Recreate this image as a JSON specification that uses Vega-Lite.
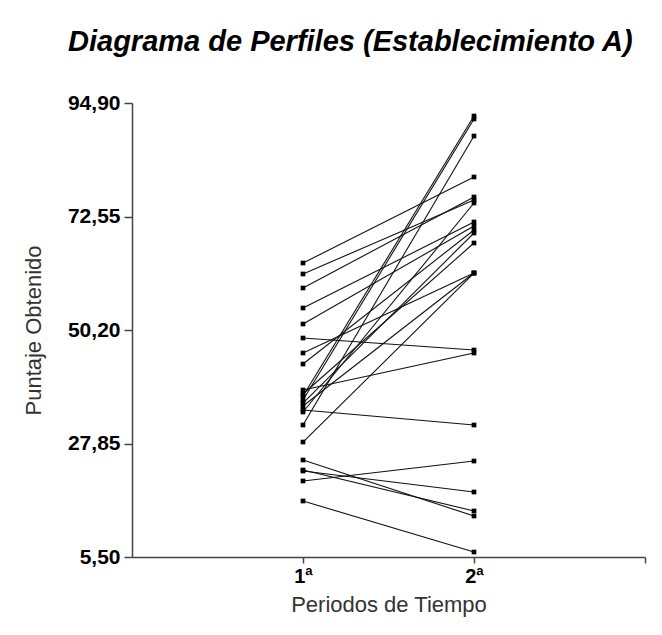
{
  "$schema": "https://vega.github.io/schema/vega-lite/v6.json",
  "width": 513,
  "height": 454,
  "autosize": {"type": "none"},
  "padding": {"left": 132, "top": 103, "right": 17, "bottom": 78},
  "background": "white",
  "config": {"view": {"stroke": null}, "font": "Liberation Sans"},
  "title": {
    "text": "Diagrama de Perfiles (Establecimiento A)",
    "font": "Liberation Sans",
    "fontSize": 29,
    "fontWeight": "bold",
    "fontStyle": "italic",
    "color": "#000000",
    "anchor": "start",
    "frame": "group",
    "dx": -64,
    "offset": 35
  },
  "data": {
    "values": [
      {"id": 1, "periodo": 1, "puntaje": 63.39}, {"id": 1, "periodo": 2, "puntaje": 80.33},
      {"id": 2, "periodo": 1, "puntaje": 61.23}, {"id": 2, "periodo": 2, "puntaje": 75.80},
      {"id": 3, "periodo": 1, "puntaje": 58.47}, {"id": 3, "periodo": 2, "puntaje": 76.39},
      {"id": 4, "periodo": 1, "puntaje": 54.53}, {"id": 4, "periodo": 2, "puntaje": 71.47},
      {"id": 5, "periodo": 1, "puntaje": 51.38}, {"id": 5, "periodo": 2, "puntaje": 70.68},
      {"id": 6, "periodo": 1, "puntaje": 48.62}, {"id": 6, "periodo": 2, "puntaje": 46.26},
      {"id": 7, "periodo": 1, "puntaje": 45.67}, {"id": 7, "periodo": 2, "puntaje": 61.42},
      {"id": 8, "periodo": 1, "puntaje": 43.50}, {"id": 8, "periodo": 2, "puntaje": 69.89},
      {"id": 9, "periodo": 1, "puntaje": 38.38}, {"id": 9, "periodo": 2, "puntaje": 45.67},
      {"id": 10, "periodo": 1, "puntaje": 37.59}, {"id": 10, "periodo": 2, "puntaje": 67.33},
      {"id": 11, "periodo": 1, "puntaje": 37.20}, {"id": 11, "periodo": 2, "puntaje": 92.34},
      {"id": 12, "periodo": 1, "puntaje": 36.41}, {"id": 12, "periodo": 2, "puntaje": 91.75},
      {"id": 13, "periodo": 1, "puntaje": 35.82}, {"id": 13, "periodo": 2, "puntaje": 69.30},
      {"id": 14, "periodo": 1, "puntaje": 35.23}, {"id": 14, "periodo": 2, "puntaje": 61.42},
      {"id": 15, "periodo": 1, "puntaje": 34.44}, {"id": 15, "periodo": 2, "puntaje": 31.49},
      {"id": 16, "periodo": 1, "puntaje": 34.05}, {"id": 16, "periodo": 2, "puntaje": 75.21},
      {"id": 17, "periodo": 1, "puntaje": 31.49}, {"id": 17, "periodo": 2, "puntaje": 88.40},
      {"id": 18, "periodo": 1, "puntaje": 28.14}, {"id": 18, "periodo": 2, "puntaje": 61.42},
      {"id": 19, "periodo": 1, "puntaje": 24.60}, {"id": 19, "periodo": 2, "puntaje": 13.57},
      {"id": 20, "periodo": 1, "puntaje": 22.63}, {"id": 20, "periodo": 2, "puntaje": 14.56},
      {"id": 21, "periodo": 1, "puntaje": 22.43}, {"id": 21, "periodo": 2, "puntaje": 18.30},
      {"id": 22, "periodo": 1, "puntaje": 20.47}, {"id": 22, "periodo": 2, "puntaje": 24.40},
      {"id": 23, "periodo": 1, "puntaje": 16.53}, {"id": 23, "periodo": 2, "puntaje": 6.48}
    ]
  },
  "encoding": {
    "x": {
      "field": "periodo",
      "type": "quantitative",
      "scale": {"domain": [0, 3], "nice": false, "zero": false},
      "axis": {
        "title": "Periodos de Tiempo",
        "values": [1, 2, 3],
        "labelExpr": "datum.value == 1 ? '1ª' : datum.value == 2 ? '2ª' : ''",
        "grid": false,
        "labelFont": "Liberation Sans",
        "labelFontSize": 20,
        "labelFontWeight": "bold",
        "labelColor": "#000000",
        "labelPadding": 3,
        "tickSize": 6,
        "tickColor": "#444444",
        "domainColor": "#444444",
        "domainWidth": 1.5,
        "tickWidth": 1.5,
        "titleFont": "Liberation Sans",
        "titleFontSize": 22,
        "titleFontWeight": "normal",
        "titleColor": "#333333",
        "titlePadding": 8
      }
    },
    "y": {
      "field": "puntaje",
      "type": "quantitative",
      "scale": {"domain": [5.5, 94.9], "nice": false, "zero": false},
      "axis": {
        "title": "Puntaje Obtenido",
        "values": [5.5, 27.85, 50.2, 72.55, 94.9],
        "labelExpr": "replace(format(datum.value, '.2f'), '.', ',')",
        "grid": false,
        "labelFont": "Liberation Sans",
        "labelFontSize": 21,
        "labelFontWeight": "bold",
        "labelColor": "#000000",
        "labelPadding": 4,
        "tickSize": 8,
        "tickColor": "#444444",
        "domainColor": "#444444",
        "domainWidth": 1.5,
        "tickWidth": 1.5,
        "titleFont": "Liberation Sans",
        "titleFontSize": 22,
        "titleFontWeight": "normal",
        "titleColor": "#333333",
        "titlePadding": 22
      }
    }
  },
  "layer": [
    {
      "mark": {"type": "line", "color": "#111111", "strokeWidth": 1.1},
      "encoding": {"detail": {"field": "id", "type": "nominal"}}
    },
    {
      "mark": {"type": "square", "color": "#000000", "filled": true, "opacity": 1, "size": 22}
    }
  ]
}
